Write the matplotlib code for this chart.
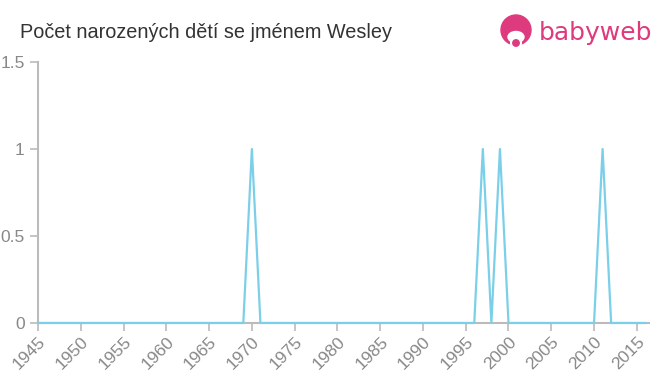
import matplotlib.pyplot as plt
import numpy as np
from matplotlib.patches import Circle, Ellipse

plt.rcParams['font.family'] = ['Liberation Sans', 'DejaVu Sans']

years = np.arange(1945, 2017)
counts = np.zeros(len(years))
peak_years = [1970, 1997, 1999, 2011]
peak_values = [1, 1, 1, 1]
for y, v in zip(peak_years, peak_values):
    counts[years == y] = v

tick_years = np.arange(1945, 2016, 5)

fig = plt.figure(figsize=(6.6, 3.75), dpi=100)
ax = fig.add_axes([0.0576, 0.1387, 0.9254, 0.696])

ax.plot(years, counts, color='#7ccfe9', lw=1.6, zorder=3, clip_on=False)

ax.set_xlim(1945, 2016.4)
ax.set_ylim(0, 1.5)
ax.set_xticks(tick_years)
ax.set_xticklabels([str(t) for t in tick_years], rotation=45, ha='right',
                   rotation_mode='anchor')
ax.set_yticks([0, 0.5, 1, 1.5])
ax.set_yticklabels(['0', '0.5', '1', '1.5'])
ax.tick_params(colors='#bbbbbb', labelcolor='#888888', labelsize=12.5,
               length=6, width=1.2)
ax.tick_params(axis='x', pad=2)
for s in ['top', 'right']:
    ax.spines[s].set_visible(False)
for s in ['left', 'bottom']:
    ax.spines[s].set_color('#bbbbbb')
    ax.spines[s].set_linewidth(1.5)

fig.text(0.03, 0.913, 'Počet narozených dětí se jménem Wesley', fontsize=14.3,
         color='#333333', va='center')

# logo
pink = '#de3a7e'
fig.patches.append(Circle((516, 345), 15, transform=None, color=pink))
fig.patches.append(Ellipse((516, 338), 16, 11, transform=None, color='white'))
fig.patches.append(Circle((516, 332), 5, transform=None, color=pink,
                          ec='white', lw=1.5))
fig.text(0.817, 0.912, 'babyweb', fontsize=18, color=pink, va='center',
         family='DejaVu Sans')

fig.savefig('out.png', dpi=100)
